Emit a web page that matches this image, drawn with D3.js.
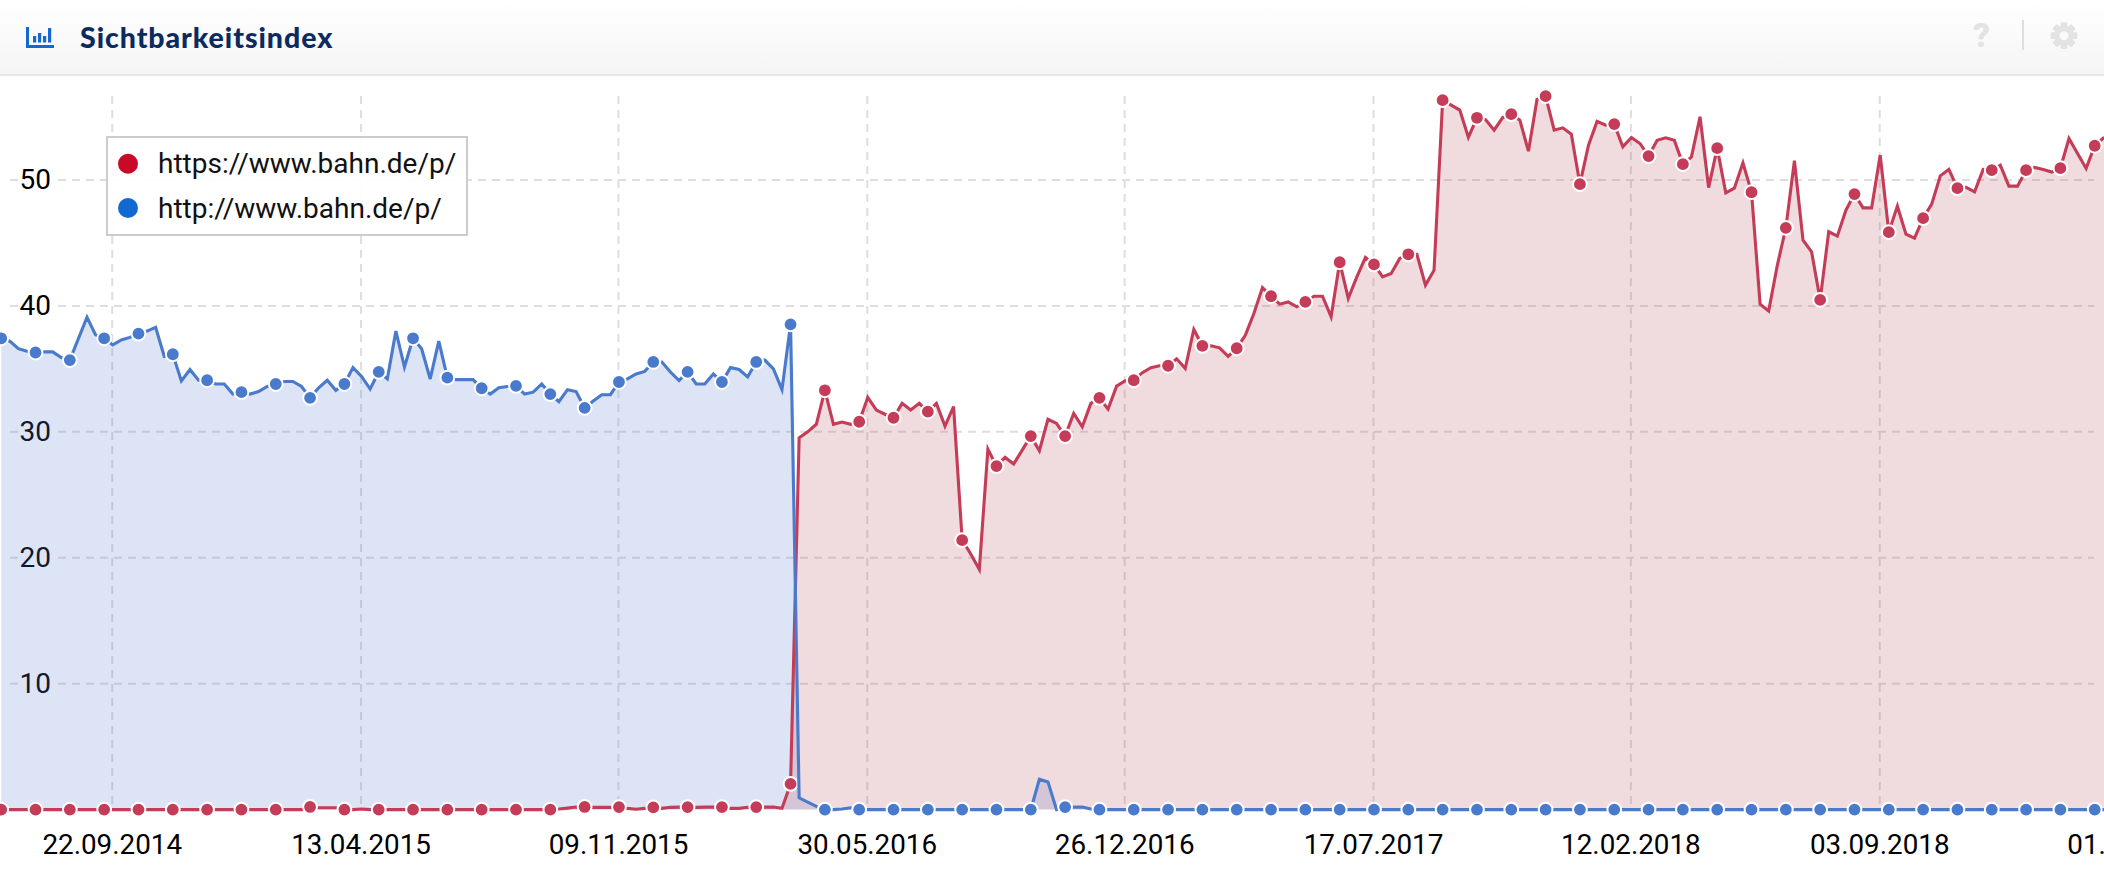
<!DOCTYPE html>
<html><head><meta charset="utf-8">
<script src="https://cdnjs.cloudflare.com/ajax/libs/d3/7.8.5/d3.min.js"></script>
<style>
html,body{margin:0;padding:0;background:#fff;overflow:hidden}
svg{display:block;font-family:Roboto,sans-serif}
</style></head><body><div id="chart"></div>
<script>
const title = "Sichtbarkeitsindex";
const seriesNames = ["https://www.bahn.de/p/", "http://www.bahn.de/p/"];
const startDate = "2014-06-23";
const tickDates = ["2014-09-22","2015-04-13","2015-11-09","2016-05-30","2016-12-26","2017-07-17","2018-02-12","2018-09-03","2019-04-01"];
const yTicks = [10,20,30,40,50];

// weekly values, https series
const httpsValues = [
0,0,0,0,0,0,0,0,0,0,0,0,0,0,0,0,0,0,0,0,
0,0,0,0,0,0,0,0,0,0,0,0,0,0,0,0,.21,.15,.15,.15,
0,0,.05,0,0,0,0,0,0,0,0,0,0,0,0,0,0,0,0,0,
0,0,0,0,0,.05,.12,.2,.21,.18,.18,.18,.2,.1,.03,.1,.18,.1,.18,.2,
.2,.18,.2,.2,.2,.1,.1,.18,.2,.2,.2,.1,2.04,
29.53,30.0,30.6,33.3,30.6,30.78,30.6,30.8,32.73,31.73,31.4,31.12,32.26,31.73,32.26,31.6,32.26,30.46,32.0,21.4,
20.3,19.07,28.63,27.28,27.97,27.44,28.55,29.66,28.5,31.0,30.67,29.66,31.46,30.4,32.26,32.7,31.8,33.63,34.06,34.1,
34.7,35.1,35.25,35.25,35.8,35.03,38.13,36.83,36.83,36.67,36.0,36.64,37.67,39.4,41.46,40.77,40.14,40.32,39.93,40.32,
40.77,40.77,39.13,43.47,40.6,42.3,43.84,43.3,42.3,42.57,43.77,44.1,44.1,41.65,42.84,56.34,55.94,55.55,53.38,54.94,
54.8,53.96,54.96,55.23,54.75,52.29,56.4,56.66,53.96,54.14,53.64,49.67,52.77,54.65,54.35,54.44,52.63,53.38,52.9,51.9,
53.16,53.35,53.16,51.26,51.84,55.02,49.4,52.53,48.98,49.35,51.36,49.03,40.14,39.6,43.2,46.2,51.53,45.22,44.3,40.48,
45.89,45.54,47.6,48.88,47.79,47.79,51.98,45.86,47.92,45.7,45.38,46.97,48.08,50.33,50.84,49.35,49.41,49.06,50.84,50.78,
51.18,49.51,49.51,50.78,51.0,50.84,50.63,50.94,53.3,52.1,50.92,52.72,53.33,53.4];

// weekly values, http series
const httpValues = [
37.43,37.2,36.6,36.4,36.3,36.35,36.35,35.9,35.7,37.4,39.1,37.7,37.43,36.9,37.3,37.5,37.8,38.0,38.3,36.0,
36.16,34.04,34.95,34.1,34.1,33.8,33.8,33.0,33.15,33.0,33.2,33.6,33.8,34.0,34.0,33.6,32.7,33.5,34.1,33.3,
33.8,35.1,34.4,33.4,34.76,34.2,38.0,35.15,37.43,36.6,34.2,37.2,34.3,34.15,34.15,34.15,33.46,33.0,33.5,33.6,
33.65,33.0,33.15,33.8,33.0,32.4,33.35,33.2,31.9,32.45,32.95,32.95,33.96,34.2,34.6,34.8,35.55,35.55,34.75,34.07,
34.76,33.8,33.8,34.6,33.96,35.1,34.95,34.36,35.55,35.7,35.0,33.35,38.54,
.93,.6,.25,0,0,.05,.15,0,0,0,0,0,0,0,0,0,0,0,0,0,
0,0,0,0,0,0,0,0,2.41,2.2,0,.2,.2,.2,.05,0,0,0,0,0,
0,0,0,0,0,0,0,0,0,0,0,0,0,0,0,0,0,0,0,0,
0,0,0,0,0,0,0,0,0,0,0,0,0,0,0,0,0,0,0,0,
0,0,0,0,0,0,0,0,0,0,0,0,0,0,0,0,0,0,0,0,
0,0,0,0,0,0,0,0,0,0,0,0,0,0,0,0,0,0,0,0,
0,0,0,0,0,0,0,0,0,0,0,0,0,0,0,0,0,0,0,0,
0,0,0,0,0,0,0,0,0,0,0,0,0,0];

const W = 2104, H = 876;
const RED = "#c43c57", BLUE = "#4a7acc";
const weekPx = 8.58, x0 = 1.2;
const parse = d3.utcParse("%Y-%m-%d"), fmt = d3.utcFormat("%d.%m.%Y");
const start = parse(startDate);
const dateAt = i => d3.utcDay.offset(start, 7 * i);
const n = httpsValues.length;

const x = d3.scaleUtc().domain([start, dateAt(n - 1)]).range([x0, x0 + weekPx * (n - 1)]);
const y = d3.scaleLinear().domain([0, 50]).range([809.6, 180]);

const svg = d3.select("#chart").append("svg").attr("width", W).attr("height", H).attr("viewBox", `0 0 ${W} ${H}`);

// header
const defs = svg.append("defs");
const g = defs.append("linearGradient").attr("id", "hd").attr("x1", 0).attr("x2", 0).attr("y1", 0).attr("y2", 1);
g.append("stop").attr("offset", 0).attr("stop-color", "#ffffff");
g.append("stop").attr("offset", 1).attr("stop-color", "#f5f5f5");
svg.append("rect").attr("width", W).attr("height", 74).attr("fill", "url(#hd)");
svg.append("rect").attr("y", 74).attr("width", W).attr("height", 2).attr("fill", "#e6e6e6");

const icon = svg.append("g").attr("fill", "#1269d3");
icon.append("rect").attr("x", 26).attr("y", 27).attr("width", 3).attr("height", 21);
icon.append("rect").attr("x", 26).attr("y", 45).attr("width", 28).attr("height", 3);
[[33,36,3.2,6.5],[38,33,3.2,9.5],[43,36,3.2,6.5],[48,28,3.2,14.5]].forEach(b =>
  icon.append("rect").attr("x", b[0]).attr("y", b[1]).attr("width", b[2]).attr("height", b[3]));

svg.append("text").text(title).attr("x", 80).attr("y", 48).attr("fill", "#0b2a5e")
  .attr("font-family", "Lato, Roboto, sans-serif").attr("font-weight", 900).attr("font-size", 28.5)
  .attr("letter-spacing", 0.95);
svg.append("text").text("?").attr("x", 1981.5).attr("y", 47).attr("text-anchor", "middle")
  .attr("fill", "#e3e3e3").attr("font-weight", 900).attr("font-size", 33);
svg.append("rect").attr("x", 2022).attr("y", 20).attr("width", 2).attr("height", 30).attr("fill", "#dedede");
const gear = svg.append("g").attr("transform", "translate(2064,35.7)");
d3.range(8).forEach(k => gear.append("rect").attr("x", -3.2).attr("y", -13.2).attr("width", 6.4).attr("height", 26.4)
  .attr("rx", 1).attr("fill", "#e3e3e3").attr("transform", `rotate(${k * 45})`));
gear.append("circle").attr("r", 7.5).attr("fill", "none").attr("stroke", "#e3e3e3").attr("stroke-width", 5);
gear.append("circle").attr("r", 4.5).attr("fill", "#fafafa");

// grid + axes
const gridColor = "#dedede";
const hg = svg.append("g");
const yAxis = svg.append("g")
  .call(d3.axisRight(y).tickValues(yTicks).tickSize(0).tickFormat(d3.format("d")));
yAxis.select(".domain").remove();
yAxis.selectAll("text").attr("x", 51).attr("dy", "0.30em").attr("text-anchor", "end")
  .attr("font-size", 28).attr("font-family", "Roboto,sans-serif").attr("fill", "#000");
yTicks.forEach(t => {
  hg.append("line").attr("x1", 10).attr("x2", 18).attr("y1", y(t)).attr("y2", y(t))
    .attr("stroke", gridColor).attr("stroke-width", 2);
  hg.append("line").attr("x1", 58).attr("x2", 2094).attr("y1", y(t)).attr("y2", y(t))
    .attr("stroke", gridColor).attr("stroke-width", 2).attr("stroke-dasharray", "8,6");
});
const xAxis = svg.append("g")
  .call(d3.axisBottom(x).tickValues(tickDates.map(parse)).tickSize(0).tickFormat(fmt));
xAxis.select(".domain").remove();
xAxis.selectAll("text").attr("y", 854).attr("dy", 0).attr("dx", -1).attr("text-anchor", "middle")
  .attr("font-size", 27.8).attr("font-family", "Roboto,sans-serif").attr("fill", "#000");
tickDates.map(parse).forEach(d => {
  hg.append("line").attr("x1", x(d) - 0.5).attr("x2", x(d) - 0.5).attr("y1", 96).attr("y2", 810)
    .attr("stroke", gridColor).attr("stroke-width", 2).attr("stroke-dasharray", "8,6");
});

// series
const area = d3.area().x((d, i) => x(dateAt(i))).y0(y(0)).y1(d => y(d));
const line = d3.line().x((d, i) => x(dateAt(i))).y(d => y(d));
const plot = svg.append("g");
function drawArea(values, fill) {
  plot.append("path").datum(values).attr("d", area).attr("fill", fill).attr("fill-opacity", 0.2);
}
function drawLine(values, color) {
  plot.append("path").datum(values).attr("d", line).attr("fill", "none").attr("stroke", color).attr("stroke-width", 3.1);
  plot.append("g").selectAll("circle").data(values.map((v, i) => ({v, i})).filter(d => d.i % 4 === 0))
    .join("circle").attr("cx", d => x(dateAt(d.i))).attr("cy", d => y(d.v)).attr("r", 6.9)
    .attr("fill", color).attr("stroke", "#fff").attr("stroke-width", 2);
}
drawArea(httpValues, "rgb(85,120,205)");
drawArea(httpsValues, "rgb(180,80,95)");
drawLine(httpsValues, RED);
drawLine(httpValues, BLUE);

// legend
const lg = svg.append("g");
lg.append("rect").attr("x", 107).attr("y", 137).attr("width", 360).attr("height", 98)
  .attr("fill", "#fff").attr("fill-opacity", 0.92).attr("stroke", "#cccccc").attr("stroke-width", 2);
[["#c80a28", 163.7], ["#1269d3", 208]].forEach((c, k) => {
  lg.append("circle").attr("cx", 128).attr("cy", c[1]).attr("r", 10).attr("fill", c[0]);
  lg.append("text").text(seriesNames[k]).attr("x", 158).attr("y", c[1] + 9.5)
    .attr("font-size", 28).attr("fill", "#111");
});
</script></body></html>
